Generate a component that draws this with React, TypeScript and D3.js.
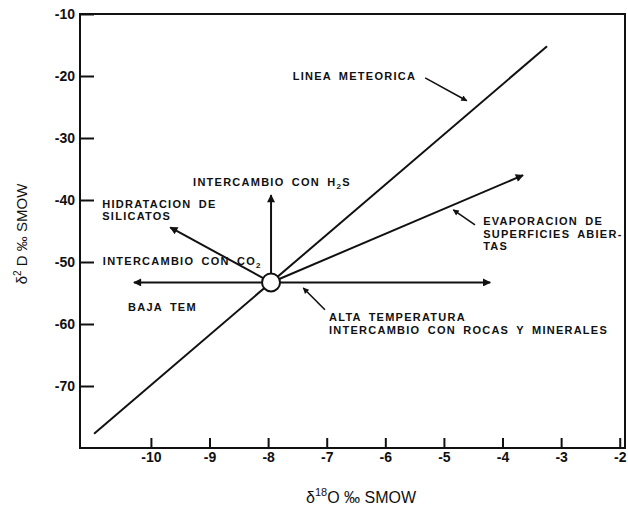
import { useEffect, useRef } from 'react'
import * as d3 from 'd3'

// axis ticks (δ18O on x, δD on y, ‰ SMOW)
const X_TICKS = [-10, -9, -8, -7, -6, -5, -4, -3, -2]
const Y_TICKS = [-10, -20, -30, -40, -50, -60, -70]
const X_DOMAIN: [number, number] = [-11.21, -1.91]
const Y_DOMAIN: [number, number] = [-80, -10]

// meteoric water line
const METEORIC_LINE: [number, number][] = [
  [-10.97, -77.7],
  [-3.24, -15.2],
]

// starting composition (the open circle)
const ORIGIN: [number, number] = [-7.95, -53.3]

// where each process arrow ends
const PROCESS_TIPS: [number, number][] = [
  [-10.29, -53.3], // intercambio con CO2
  [-4.21, -53.3], // alta temperatura, rocas y minerales
  [-7.95, -39.2], // intercambio con H2S
  [-9.67, -44.4], // hidratacion de silicatos
  [-3.65, -36.0], // evaporacion
]

// small pointer arrows from labels to lines
const POINTERS: { from: [number, number]; to: [number, number] }[] = [
  { from: [-5.32, -20.3], to: [-4.61, -24.0] },
  { from: [-4.47, -44.0], to: [-4.84, -41.6] },
  { from: [-7.03, -57.7], to: [-7.4, -54.2] },
]

// labels: anchor = left edge / middle of first line, in data units. "_2" = subscript
const LABELS: { at: [number, number]; lines: string[] }[] = [
  { at: [-7.58, -20.0], lines: ['LINEA METEORICA'] },
  { at: [-9.28, -37.1], lines: ['INTERCAMBIO CON H_2S'] },
  { at: [-10.83, -40.6], lines: ['HIDRATACION DE', 'SILICATOS'] },
  { at: [-10.82, -49.8], lines: ['INTERCAMBIO CON CO_2'] },
  { at: [-10.39, -57.3], lines: ['BAJA TEM'] },
  { at: [-4.33, -43.4], lines: ['EVAPORACION DE', 'SUPERFICIES ABIER-', 'TAS'] },
  { at: [-6.96, -58.9], lines: ['ALTA TEMPERATURA', 'INTERCAMBIO CON ROCAS Y MINERALES'] },
]

const W = 628
const H = 510
const margin = { top: 14, right: 3, bottom: 62, left: 80 }
const INK = '#111'

function richText(s: string) {
  const parts = s.split(/_(\d)/)
  return parts.map((p, i) =>
    i % 2 === 1 ? (
      <tspan key={i} fontSize="8" dy="3">{p}</tspan>
    ) : i > 0 ? (
      <tspan key={i} dy="-3">{p}</tspan>
    ) : (
      p
    )
  )
}

export default function App() {
  const xAxisRef = useRef<SVGGElement>(null)
  const yAxisRef = useRef<SVGGElement>(null)

  const x = d3.scaleLinear().domain(X_DOMAIN).range([margin.left, W - margin.right])
  const y = d3.scaleLinear().domain(Y_DOMAIN).range([H - margin.bottom, margin.top])

  useEffect(() => {
    const gx = d3.select(xAxisRef.current!)
    gx.call(
      d3.axisBottom(x).tickValues(X_TICKS).tickSize(-10).tickPadding(4).tickFormat(d => String(d))
    )
    const gy = d3.select(yAxisRef.current!)
    gy.call(
      d3.axisLeft(y).tickValues(Y_TICKS).tickSize(-14).tickPadding(5).tickFormat(d => String(d))
    )
    for (const g of [gx, gy]) {
      g.select('.domain').remove()
      g.selectAll('.tick line').attr('stroke', INK).attr('stroke-width', 2)
      g.selectAll('.tick text')
        .attr('fill', INK)
        .attr('font-size', 14)
        .attr('font-weight', 'bold')
        .attr('font-family', "'Liberation Sans', Arial, sans-serif")
    }
  }, [])

  const line = d3.line<[number, number]>().x(d => x(d[0])).y(d => y(d[1]))

  return (
    <svg
      width={W}
      height={H}
      style={{ position: 'absolute', left: 0, top: 0, background: '#fff' }}
      fontFamily="'Liberation Sans', Arial, sans-serif"
    >
      <defs>
        <marker id="head" viewBox="0 0 10 10" refX="9" refY="5" markerWidth="13" markerHeight="8"
          markerUnits="userSpaceOnUse" orient="auto">
          <path d="M0,0 L10,5 L0,10 z" fill={INK} />
        </marker>
        <marker id="small-head" viewBox="0 0 10 10" refX="9" refY="5" markerWidth="10" markerHeight="6"
          markerUnits="userSpaceOnUse" orient="auto">
          <path d="M0,0 L10,5 L0,10 z" fill={INK} />
        </marker>
      </defs>

      {/* frame */}
      <rect
        x={x(X_DOMAIN[0])}
        y={y(Y_DOMAIN[1])}
        width={x(X_DOMAIN[1]) - x(X_DOMAIN[0])}
        height={y(Y_DOMAIN[0]) - y(Y_DOMAIN[1])}
        fill="none"
        stroke={INK}
        strokeWidth={2}
      />
      <g ref={xAxisRef} transform={`translate(0,${H - margin.bottom})`} />
      <g ref={yAxisRef} transform={`translate(${margin.left},0)`} />

      {/* meteoric line */}
      <path d={line(METEORIC_LINE)!} fill="none" stroke={INK} strokeWidth={2} />

      {/* process arrows */}
      {PROCESS_TIPS.map((tip, i) => (
        <line key={i} x1={x(ORIGIN[0])} y1={y(ORIGIN[1])} x2={x(tip[0])} y2={y(tip[1])}
          stroke={INK} strokeWidth={2} markerEnd="url(#head)" />
      ))}

      <circle cx={x(ORIGIN[0])} cy={y(ORIGIN[1])} r={9} fill="#fff" stroke={INK} strokeWidth={2} />

      {/* pointers */}
      {POINTERS.map((p, i) => (
        <line key={i} x1={x(p.from[0])} y1={y(p.from[1])} x2={x(p.to[0])} y2={y(p.to[1])}
          stroke={INK} strokeWidth={1.6} markerEnd="url(#small-head)" />
      ))}

      {/* labels */}
      {LABELS.map((lab, i) => (
        <text key={i} fontSize={11} fontWeight="bold" fill={INK}
          style={{ letterSpacing: '1.25px', wordSpacing: '3px' }}>
          {lab.lines.map((ln, j) => (
            <tspan key={j} x={x(lab.at[0])} y={y(lab.at[1]) + 4 + j * 12.5}>
              {richText(ln)}
            </tspan>
          ))}
        </text>
      ))}

      {/* axis titles */}
      <text transform="translate(27,234) rotate(-90)" textAnchor="middle" fontSize={15} fill={INK}>
        δ<tspan fontSize={10} dy={-6}>2</tspan>
        <tspan dy={6}> D ‰ SMOW</tspan>
      </text>
      <text x={361} y={503} textAnchor="middle" fontSize={16} fill={INK}>
        δ<tspan fontSize={11} dy={-7}>18</tspan>
        <tspan dy={7}>O ‰ SMOW</tspan>
      </text>
    </svg>
  )
}
